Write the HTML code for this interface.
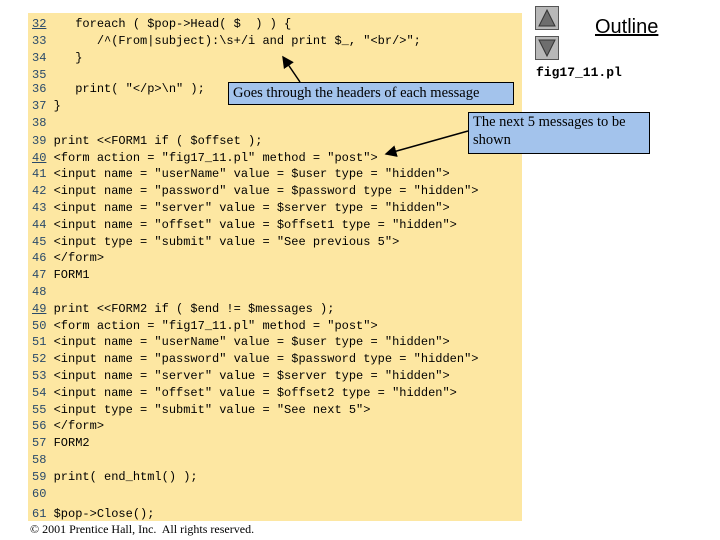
<!DOCTYPE html>
<html><head><style>
body{margin:0;width:720px;height:540px;background:#fff;position:relative;overflow:hidden;font-family:"Liberation Mono",monospace}
#panel{position:absolute;left:28px;top:13px;width:494px;height:508px;background:#fde7a2}
.l{position:absolute;left:32px;font-size:12px;white-space:pre;color:#000;line-height:14px}
.n{color:#2a4a6a}
.u{text-decoration:underline}
.box{position:absolute;background:#a3c3ec;border:1px solid #000;font-family:"Liberation Serif",serif;font-size:14.5px;line-height:18px;padding:0 4px}
.btn{position:absolute;left:535px;width:22px;height:22px;background:#b8b8b8;border:1px solid #555}
</style></head><body>
<div id="panel"></div>
<div class="l" style="top:17px"><span class="n u">32</span>    foreach ( $pop->Head( $  ) ) {</div>
<div class="l" style="top:34px"><span class="n">33</span>       /^(From|subject):\s+/i and print $_, "&lt;br/&gt;";</div>
<div class="l" style="top:51px"><span class="n">34</span>    }</div>
<div class="l" style="top:68px"><span class="n">35</span></div>
<div class="l" style="top:82px"><span class="n">36</span>    print( "&lt;/p&gt;\n" );</div>
<div class="l" style="top:99px"><span class="n">37</span> }</div>
<div class="l" style="top:116px"><span class="n">38</span></div>
<div class="l" style="top:134px"><span class="n">39</span> print &lt;&lt;FORM1 if ( $offset );</div>
<div class="l" style="top:151px"><span class="n u">40</span> &lt;form action = "fig17_11.pl" method = "post"&gt;</div>
<div class="l" style="top:167px"><span class="n">41</span> &lt;input name = "userName" value = $user type = "hidden"&gt;</div>
<div class="l" style="top:184px"><span class="n">42</span> &lt;input name = "password" value = $password type = "hidden"&gt;</div>
<div class="l" style="top:201px"><span class="n">43</span> &lt;input name = "server" value = $server type = "hidden"&gt;</div>
<div class="l" style="top:218px"><span class="n">44</span> &lt;input name = "offset" value = $offset1 type = "hidden"&gt;</div>
<div class="l" style="top:235px"><span class="n">45</span> &lt;input type = "submit" value = "See previous 5"&gt;</div>
<div class="l" style="top:251px"><span class="n">46</span> &lt;/form&gt;</div>
<div class="l" style="top:268px"><span class="n">47</span> FORM1</div>
<div class="l" style="top:285px"><span class="n">48</span></div>
<div class="l" style="top:302px"><span class="n u">49</span> print &lt;&lt;FORM2 if ( $end != $messages );</div>
<div class="l" style="top:319px"><span class="n">50</span> &lt;form action = "fig17_11.pl" method = "post"&gt;</div>
<div class="l" style="top:335px"><span class="n">51</span> &lt;input name = "userName" value = $user type = "hidden"&gt;</div>
<div class="l" style="top:352px"><span class="n">52</span> &lt;input name = "password" value = $password type = "hidden"&gt;</div>
<div class="l" style="top:369px"><span class="n">53</span> &lt;input name = "server" value = $server type = "hidden"&gt;</div>
<div class="l" style="top:386px"><span class="n">54</span> &lt;input name = "offset" value = $offset2 type = "hidden"&gt;</div>
<div class="l" style="top:403px"><span class="n">55</span> &lt;input type = "submit" value = "See next 5"&gt;</div>
<div class="l" style="top:419px"><span class="n">56</span> &lt;/form&gt;</div>
<div class="l" style="top:436px"><span class="n">57</span> FORM2</div>
<div class="l" style="top:453px"><span class="n">58</span></div>
<div class="l" style="top:470px"><span class="n">59</span> print( end_html() );</div>
<div class="l" style="top:487px"><span class="n">60</span></div>
<div class="l" style="top:507px"><span class="n">61</span> $pop-&gt;Close();</div>
<div style="position:absolute;left:30px;top:522px;font-family:'Liberation Serif',serif;font-size:12px">© 2001 Prentice Hall, Inc.&nbsp; All rights reserved.</div>
<div class="box" style="left:228px;top:82px;width:276px;height:21px;line-height:21px">Goes through the headers of each message</div>
<div class="box" style="left:468px;top:112px;width:172px;height:40px">The next 5 messages to be shown</div>
<svg style="position:absolute;left:0;top:0" width="720" height="540">
<defs><marker id="a" markerWidth="8" markerHeight="8" refX="7" refY="4" orient="auto"><path d="M0,0L8,4L0,8z" fill="#000"/></marker></defs>
<line x1="300" y1="82" x2="283" y2="57" stroke="#000" stroke-width="1.5" marker-end="url(#a)"/>
<line x1="468" y1="131" x2="386" y2="154" stroke="#000" stroke-width="1.5" marker-end="url(#a)"/>
</svg>
<div class="btn" style="top:6px"><svg width="22" height="22"><path d="M11,3L19,19H3z" fill="#6e6e6e" stroke="#333"/></svg></div>
<div class="btn" style="top:36px"><svg width="22" height="22"><path d="M3,3H19L11,19z" fill="#6e6e6e" stroke="#333"/></svg></div>
<div style="position:absolute;left:595px;top:16px;font-family:'Liberation Sans',sans-serif;font-size:20px;text-decoration:underline">Outline</div>
<div style="position:absolute;left:536px;top:65px;font-size:13px;font-weight:bold">fig17_11.pl</div>
</body></html>
